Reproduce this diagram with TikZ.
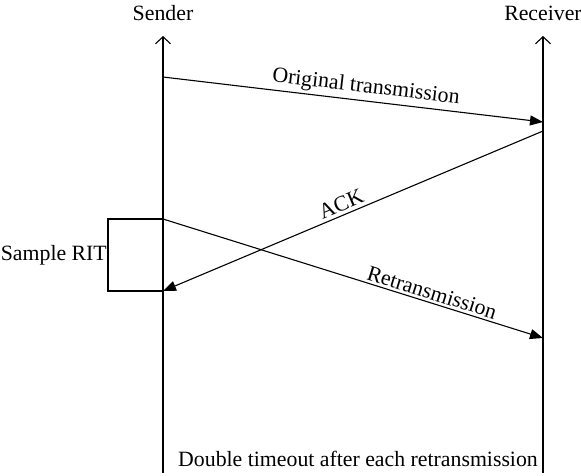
\documentclass[tikz,border=0pt]{standalone}
\usepackage{fontspec}
\setmainfont{Liberation Serif}
\usetikzlibrary{arrows.meta}
\begin{document}
\begin{tikzpicture}[x=1pt,y=-1pt,
  every node/.style={font=\fontsize{21.8}{25}\selectfont, inner sep=2pt},
  lifeline/.style={line width=1.1pt, -{Straight Barb[length=7pt,width=15pt,line width=1.1pt]}},
  msg/.style={line width=1.1pt, -{Triangle[length=13pt,width=10pt]}},
  lbl/.style={sloped, above, inner sep=3pt}]
  \useasboundingbox (0,0) rectangle (581,475);

  % lifelines
  \coordinate (sbot) at (163,473);
  \coordinate (stop) at (163,36);
  \coordinate (rbot) at (543,473);
  \coordinate (rtop) at (543,36);
  \draw[lifeline] (sbot) -- (stop);
  \draw[lifeline] (rbot) -- (rtop);
  \node (sender) at (163,13) {Sender};
  \node (receiver) at (543,13) {Receiver};

  % message end points
  \coordinate (s1) at (163,77);
  \coordinate (r1) at (543,122);
  \coordinate (r2) at (543,131);
  \coordinate (s2) at (163,291);
  \coordinate (s3) at (163,219);
  \coordinate (r3) at (543,338);

  \draw[msg] (s1) -- node[lbl, pos=0.53] {Original transmission} (r1);
  \draw[msg] (r2) -- node[lbl, pos=0.52] {ACK} (s2);
  \draw[msg] (s3) -- node[lbl, pos=0.70, inner sep=2.5pt] {Retransmission} (r3);

  % sample RTT bracket
  \coordinate (bx1) at (108,219);
  \coordinate (bx2) at (108,291);
  \draw[line width=1.1pt] (s3) -- (bx1) -- (bx2) -- (s2);
  \node[anchor=east, inner sep=1pt] (sample) at (108,255) {Sample RIT};

  \node (timeout) at (358,459) {Double timeout after each retransmission};
\end{tikzpicture}
\end{document}
